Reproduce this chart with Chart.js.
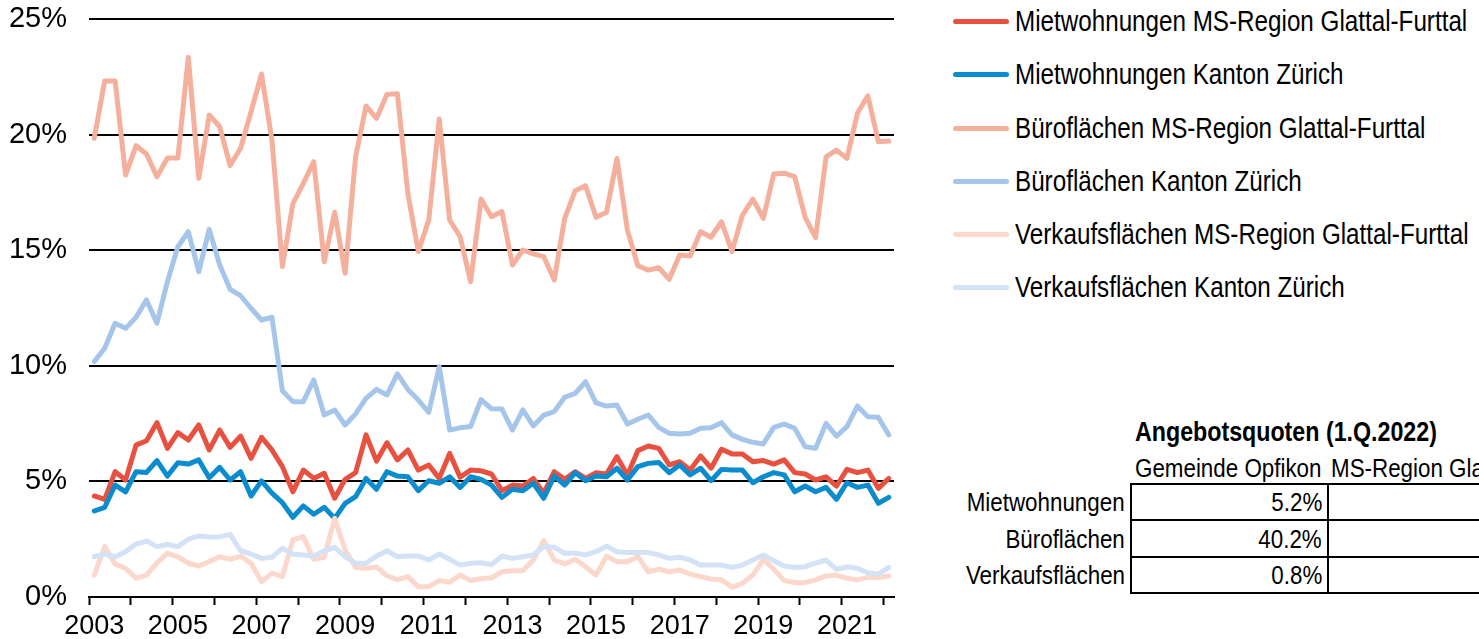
<!DOCTYPE html>
<html lang="de">
<head>
<meta charset="utf-8">
<title>Angebotsquoten</title>
<script src="https://cdn.jsdelivr.net/npm/chart.js@4.4.1/dist/chart.umd.min.js"></script>
<style>
  html, body { margin: 0; padding: 0; background: #fff; }
  body { width: 1479px; height: 639px; overflow: hidden; position: relative;
         font-family: 'Liberation Sans', Arial, sans-serif; color: #000; }
  #chartBox { position: absolute; left: 0; top: 0; width: 905px; height: 639px; }
  .txt { position: absolute; white-space: nowrap; height: 30px; line-height: 30px; }
  .txt span { display: inline-block; }
  .legend-line { position: absolute; left: 953px; width: 56px; height: 5px; border-radius: 3px; }
  .hline { position: absolute; left: 1131px; width: 360px; height: 2px; background: #000; }
  .vline { position: absolute; width: 2px; background: #000; }
</style>
</head>
<body>
<div id="chartBox"><canvas id="myChart" width="905" height="639"></canvas></div>
<div id="side"></div>

<script>
// Quartale 1.Q.2003 bis 1.Q.2022
const quarters = [];
for (let y = 2003; y <= 2022; y++) {
  for (let q = 1; q <= 4; q++) {
    if (y === 2022 && q > 1) break;
    quarters.push(y + ' Q' + q);
  }
}
const yTicks = [0, 5, 10, 15, 20, 25];

// Angebotsquoten in %
const mietRegion = [
  4.37, 4.22, 5.42, 5.06, 6.57, 6.76, 7.54, 6.43, 7.11, 6.79,
  7.44, 6.36, 7.22, 6.47, 6.96, 6.00, 6.91, 6.36, 5.64, 4.55,
  5.49, 5.13, 5.35, 4.27, 5.09, 5.38, 7.01, 5.88, 6.67, 5.93,
  6.36, 5.49, 5.71, 5.13, 6.21, 5.18, 5.49, 5.46, 5.32, 4.60,
  4.84, 4.80, 5.13, 4.49, 5.42, 5.09, 5.42, 5.13, 5.38, 5.32,
  6.07, 5.28, 6.33, 6.53, 6.43, 5.71, 5.85, 5.49, 6.10, 5.57,
  6.39, 6.19, 6.19, 5.85, 5.90, 5.75, 5.93, 5.38, 5.32, 5.06,
  5.20, 4.80, 5.52, 5.38, 5.49, 4.70, 5.13
];
const mietKanton = [
  3.72, 3.88, 4.84, 4.55, 5.42, 5.39, 5.90, 5.23, 5.81, 5.75,
  5.93, 5.16, 5.61, 5.06, 5.42, 4.37, 5.02, 4.49, 4.08, 3.45,
  3.94, 3.58, 3.88, 3.40, 4.05, 4.34, 5.13, 4.66, 5.42, 5.23,
  5.20, 4.60, 5.03, 4.92, 5.20, 4.74, 5.20, 5.09, 4.84, 4.31,
  4.66, 4.60, 4.92, 4.27, 5.23, 4.84, 5.38, 5.03, 5.23, 5.20,
  5.57, 5.06, 5.64, 5.78, 5.82, 5.38, 5.71, 5.28, 5.57, 5.03,
  5.52, 5.49, 5.49, 4.94, 5.20, 5.38, 5.28, 4.55, 4.80, 4.55,
  4.74, 4.22, 4.94, 4.74, 4.84, 4.05, 4.31
];
const bueroRegion = [
  19.84, 22.32, 22.32, 18.25, 19.52, 19.16, 18.18, 18.99, 18.99, 23.34,
  18.11, 20.85, 20.34, 18.66, 19.41, 20.99, 22.62, 19.77, 14.29, 17.00,
  17.89, 18.83, 14.50, 16.64, 14.00, 19.04, 21.24, 20.70, 21.74, 21.77,
  17.45, 14.94, 16.31, 20.67, 16.30, 15.58, 13.64, 17.21, 16.45, 16.67,
  14.36, 15.01, 14.84, 14.72, 13.71, 16.38, 17.57, 17.79, 16.42, 16.64,
  18.97, 15.87, 14.33, 14.14, 14.24, 13.74, 14.79, 14.75, 15.80, 15.56,
  16.23, 14.94, 16.52, 17.21, 16.38, 18.30, 18.33, 18.18, 16.42, 15.54,
  19.04, 19.33, 18.97, 20.92, 21.68, 19.69, 19.72
];
const bueroKanton = [
  10.18, 10.76, 11.84, 11.62, 12.10, 12.85, 11.84, 13.64, 15.15, 15.80,
  14.07, 15.90, 14.36, 13.31, 13.03, 12.49, 11.98, 12.10, 8.92, 8.45,
  8.45, 9.39, 7.87, 8.09, 7.44, 7.92, 8.59, 8.98, 8.74, 9.65,
  8.98, 8.52, 7.99, 9.96, 7.22, 7.32, 7.37, 8.54, 8.14, 8.13,
  7.22, 8.09, 7.40, 7.87, 8.02, 8.64, 8.81, 9.31, 8.40, 8.26,
  8.30, 7.48, 7.69, 7.87, 7.34, 7.08, 7.05, 7.08, 7.30, 7.32,
  7.54, 7.01, 6.82, 6.69, 6.62, 7.34, 7.48, 7.30, 6.50, 6.43,
  7.51, 6.96, 7.37, 8.26, 7.80, 7.77, 7.01
];
const verkaufRegion = [
  0.95, 2.18, 1.43, 1.24, 0.81, 0.95, 1.48, 1.89, 1.74, 1.46,
  1.34, 1.53, 1.74, 1.63, 1.77, 1.46, 0.66, 1.03, 0.88, 2.47,
  2.61, 1.63, 1.72, 3.40, 2.03, 1.28, 1.24, 1.30, 0.91, 0.75,
  0.88, 0.44, 0.45, 0.71, 0.64, 0.95, 0.71, 0.79, 0.83, 1.09,
  1.14, 1.14, 1.60, 2.44, 1.60, 1.43, 1.63, 1.31, 0.95, 1.76,
  1.53, 1.53, 1.74, 1.09, 1.20, 1.09, 1.17, 0.99, 0.88, 0.78,
  0.74, 0.42, 0.59, 0.95, 1.63, 1.20, 0.71, 0.62, 0.62, 0.74,
  0.91, 0.95, 0.81, 0.74, 0.85, 0.84, 0.91
];
const verkaufKanton = [
  1.74, 1.86, 1.74, 1.96, 2.29, 2.42, 2.18, 2.27, 2.18, 2.50,
  2.64, 2.60, 2.60, 2.71, 2.00, 1.86, 1.67, 1.72, 2.11, 1.86,
  1.82, 1.77, 2.00, 2.15, 1.74, 1.46, 1.46, 1.77, 2.00, 1.74,
  1.77, 1.77, 1.60, 1.86, 1.63, 1.38, 1.46, 1.48, 1.40, 1.77,
  1.67, 1.74, 1.82, 2.18, 2.15, 1.89, 1.89, 1.82, 1.96, 2.20,
  1.96, 1.92, 1.92, 1.92, 1.82, 1.67, 1.72, 1.60, 1.38, 1.38,
  1.38, 1.28, 1.38, 1.60, 1.82, 1.57, 1.34, 1.28, 1.31, 1.46,
  1.60, 1.20, 1.31, 1.24, 1.05, 0.99, 1.28
];

// Tabelle Angebotsquoten 1.Q.2022
const tableTitle = 'Angebotsquoten (1.Q.2022)';
const tableHeads = ['Gemeinde Opfikon', 'MS-Region Glattal-Furttal'];
const tableRows = ['Mietwohnungen', 'Büroflächen', 'Verkaufsflächen'];
const tableOpfikon = ['5.2%', '40.2%', '0.8%'];

const series = [
  { label: 'Mietwohnungen MS-Region Glattal-Furttal', data: mietRegion, color: '#E8503F' },
  { label: 'Mietwohnungen Kanton Zürich', data: mietKanton, color: '#0A8CCF' },
  { label: 'Büroflächen MS-Region Glattal-Furttal', data: bueroRegion, color: '#F5B09D' },
  { label: 'Büroflächen Kanton Zürich', data: bueroKanton, color: '#A5C6EA' },
  { label: 'Verkaufsflächen MS-Region Glattal-Furttal', data: verkaufRegion, color: '#FBD8CB' },
  { label: 'Verkaufsflächen Kanton Zürich', data: verkaufKanton, color: '#D3E2F5' },
];

const FONT = "'Liberation Sans', Arial, sans-serif";

const ctx = document.getElementById('myChart').getContext('2d');
const chart = new Chart(ctx, {
  type: 'line',
  data: {
    labels: quarters,
    datasets: series.map((s, i) => ({
      label: s.label,
      data: s.data,
      borderColor: s.color,
      backgroundColor: s.color,
      borderWidth: 5,
      pointRadius: 0,
      tension: 0,
      borderCapStyle: 'round',
      borderJoinStyle: 'round',
      order: series.length - i, // spätere Reihen oben (wie Excel)
    })),
  },
  options: {
    responsive: false,
    animation: false,
    devicePixelRatio: 1,
    layout: { padding: { top: 19, right: 11, left: 0, bottom: 0 } },
    plugins: {
      legend: { display: false },
      tooltip: { enabled: false },
    },
    scales: {
      x: {
        type: 'category',
        offset: true,
        afterFit: (scale) => { scale.height = 42; },
        grid: {
          offset: true,
          drawOnChartArea: false,
          drawTicks: true,
          tickLength: 8,
          tickWidth: 2,
          tickColor: (c) => (c.index % 4 === 0 ? '#000' : 'rgba(0,0,0,0)'),
        },
        border: { display: true, color: '#000', width: 2 },
        ticks: {
          autoSkip: false,
          maxRotation: 0,
          minRotation: 0,
          padding: 5,
          color: '#000',
          font: { family: FONT, size: 27 },
          callback: (v, i) => (i % 8 === 0 ? quarters[i].slice(0, 4) : ''),
        },
      },
      y: {
        min: yTicks[0],
        max: yTicks[yTicks.length - 1],
        afterFit: (scale) => {
          scale.width = 89;
          scale.paddingTop = 0; // oberste Linie genau am Rand
        },
        afterBuildTicks: (scale) => { scale.ticks = yTicks.map((v) => ({ value: v })); },
        grid: { color: '#000', lineWidth: 2, drawTicks: false },
        border: { display: false },
        ticks: {
          padding: 22,
          color: '#000',
          font: { family: FONT, size: 29 },
          callback: (v) => v + '%',
        },
      },
    },
  },
});

// Text rechts (Legende + Tabelle), schmal gestaucht wie im Original
const side = document.getElementById('side');
function placeText(text, x, yMid, opts) {
  const o = opts || {};
  const d = document.createElement('div');
  d.className = 'txt';
  d.style.top = (yMid - 15) + 'px';
  d.style.fontSize = (o.size || 26) + 'px';
  if (o.bold) d.style.fontWeight = 'bold';
  const s = document.createElement('span');
  s.textContent = text;
  s.style.transform = 'scaleX(' + (o.squeeze || 0.86) + ')';
  if (o.align === 'right') {
    d.style.right = (1479 - x) + 'px';
    s.style.transformOrigin = 'right center';
  } else {
    d.style.left = x + 'px';
    s.style.transformOrigin = 'left center';
  }
  d.appendChild(s);
  side.appendChild(d);
}
function placeBox(cls, x, y, w, h) {
  const d = document.createElement('div');
  d.className = cls;
  d.style.left = x + 'px';
  d.style.top = y + 'px';
  if (w) d.style.width = w + 'px';
  if (h) d.style.height = h + 'px';
  side.appendChild(d);
}

// Legende
const legendMids = [21, 74, 128, 181, 234, 287];
series.forEach((s, i) => {
  const line = document.createElement('div');
  line.className = 'legend-line';
  line.style.top = (legendMids[i] - 2) + 'px';
  line.style.background = s.color;
  side.appendChild(line);
  placeText(s.label, 1015, legendMids[i], { size: 29, squeeze: 0.835 });
});

// Tabelle
placeText(tableTitle, 1135, 432, { size: 27, bold: true });
placeText(tableHeads[0], 1135, 468, { size: 26 });
placeText(tableHeads[1], 1331, 468, { size: 26 });
const rowLines = [484, 520, 557, 593];
rowLines.forEach((y) => placeBox('hline', 1131, y - 1));
placeBox('vline', 1130, rowLines[0] - 1, 2, rowLines[3] - rowLines[0] + 2);
placeBox('vline', 1327, rowLines[0] - 1, 2, rowLines[3] - rowLines[0] + 2);
tableRows.forEach((r, i) => {
  const mid = (rowLines[i] + rowLines[i + 1]) / 2;
  placeText(r, 1125, mid, { size: 26, align: 'right' });
  placeText(tableOpfikon[i], 1322, mid, { size: 26, align: 'right' });
});
</script>
</body>
</html>
